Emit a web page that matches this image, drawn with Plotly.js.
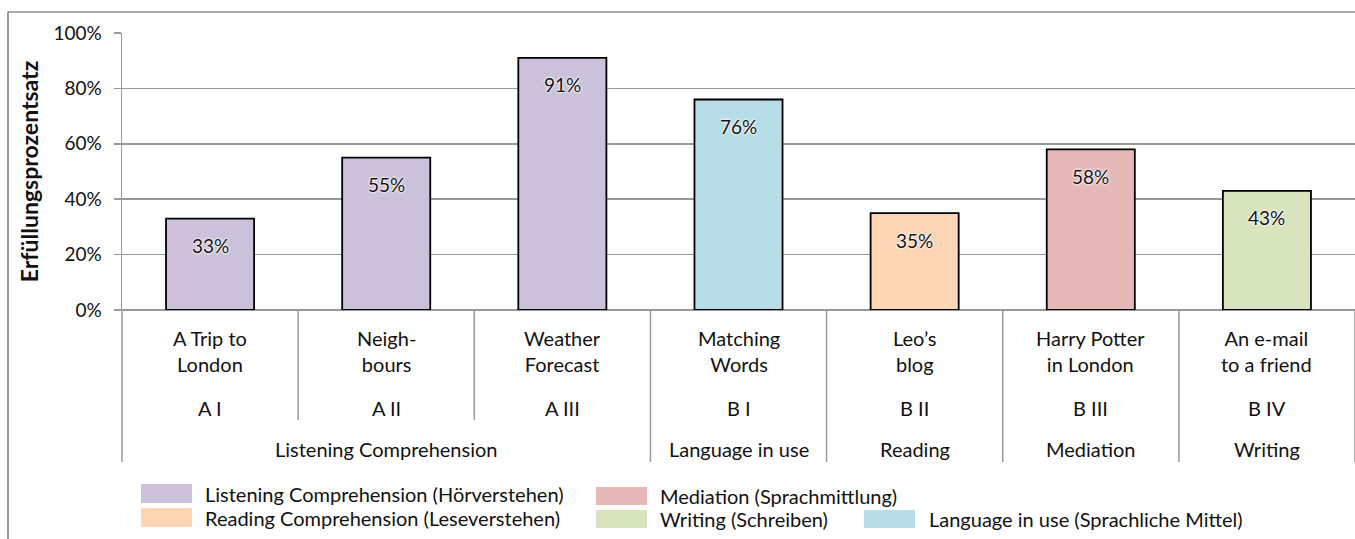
<!DOCTYPE html>
<html>
<head>
<meta charset="utf-8">
<script src="https://cdn.plot.ly/plotly-3.0.1.min.js"></script>
<style>html,body{margin:0;padding:0;background:#fff;}#chart{width:1355px;height:539px;}</style>
</head>
<body>
<div id="chart"></div>
<script>
// ---- data ----
const taskNames = ['A Trip to<br>London', 'Neigh-<br>bours', 'Weather<br>Forecast', 'Matching<br>Words', 'Leo’s<br>blog', 'Harry Potter<br>in London', 'An e-mail<br>to a friend'];
const taskCodes = ['A I', 'A II', 'A III', 'B I', 'B II', 'B III', 'B IV'];
const taskGroups = ['Listening Comprehension', 'Listening Comprehension', 'Listening Comprehension', 'Language in use', 'Reading', 'Mediation', 'Writing'];
const fulfilment = [33, 55, 91, 76, 35, 58, 43];
const skillOfTask = ['listening', 'listening', 'listening', 'language', 'reading', 'mediation', 'writing'];
const skillKeys = ['listening', 'reading', 'mediation', 'writing', 'language'];
const skillLabels = ['Listening Comprehension (Hörverstehen)', 'Reading Comprehension (Leseverstehen)', 'Mediation (Sprachmittlung)', 'Writing (Schreiben)', 'Language in use (Sprachliche Mittel)'];
const yTicks = [0, 20, 40, 60, 80, 100];

// ---- styles ----
const skillColors = {listening: '#ccc1da', reading: '#fcd5b5', mediation: '#e6b9b8', writing: '#d7e4bd', language: '#b7dde8'};
const FONT = 'Lato, "Open Sans", sans-serif';
const TXT = '#111';
const W = 1355, H = 539, ML = 122, MR = 0, MT = 33, MB = 229;
const PW = W - ML - MR, PH = H - MT - MB;
const px = v => (v - ML) / PW;          // pixel x -> paper
const py = v => (H - MB - v) / PH;      // pixel y -> paper
const N = taskNames.length;

const shapes = [];
const annotations = [];

// outer frame
shapes.push({type: 'rect', xref: 'paper', yref: 'paper', x0: px(8), x1: px(1420), y0: py(12), y1: py(620),
  line: {color: '#595959', width: 1.2}, fillcolor: 'rgba(0,0,0,0)', layer: 'below'});

// data labels
fulfilment.forEach((v, i) => {
  annotations.push({x: i, y: v, xref: 'x', yref: 'y', text: v + '%', showarrow: false, yanchor: 'middle', yshift: -27,
    font: {family: FONT, size: 19, color: TXT, shadow: '0 0 2px #fff, 0 0 2px #fff, 0 0 3px #fff'}});
});

// category labels (three levels)
const gridGray = '#999999';
const catFont = {family: FONT, size: 20, color: TXT};
for (let i = 0; i < N; i++) {
  annotations.push({x: i, y: py(351), xref: 'x', yref: 'paper', text: taskNames[i], showarrow: false, yanchor: 'middle', font: catFont});
  annotations.push({x: i, y: py(408), xref: 'x', yref: 'paper', text: taskCodes[i], showarrow: false, yanchor: 'middle', font: catFont});
}
// group runs
let start = 0;
const groupEdges = [0];
for (let i = 1; i <= N; i++) {
  if (i === N || taskGroups[i] !== taskGroups[start]) {
    annotations.push({x: (start + i - 1) / 2, y: py(449), xref: 'x', yref: 'paper', text: taskGroups[start], showarrow: false, yanchor: 'middle', font: catFont});
    groupEdges.push(i);
    start = i;
  }
}
for (let k = 0; k <= N; k++) {
  const isGroup = groupEdges.indexOf(k) >= 0;
  shapes.push({type: 'line', xref: 'paper', yref: 'paper', x0: k / N, x1: k / N, y0: py(310), y1: py(isGroup ? 462 : 420),
    line: {color: gridGray, width: 1.5}});
}

// legend (manual layout)
const legendPos = [
  {sx: 141, sy0: 484, sy1: 503, tx: 203},
  {sx: 141, sy0: 508, sy1: 527, tx: 203},
  {sx: 596, sy0: 487, sy1: 505, tx: 658},
  {sx: 596, sy0: 510, sy1: 528, tx: 658},
  {sx: 864, sy0: 510, sy1: 528, tx: 927}
];
skillKeys.forEach((k, j) => {
  const p = legendPos[j];
  shapes.push({type: 'rect', xref: 'paper', yref: 'paper', x0: px(p.sx), x1: px(p.sx + 51), y0: py(p.sy1), y1: py(p.sy0),
    line: {width: 0}, fillcolor: skillColors[k]});
  annotations.push({x: px(p.tx), y: py((p.sy0 + p.sy1) / 2), xref: 'paper', yref: 'paper', text: skillLabels[j], showarrow: false,
    xanchor: 'left', yanchor: 'middle', font: {family: FONT, size: 20, color: TXT}});
});

const trace = {
  type: 'bar',
  x: taskCodes.map((_, i) => i),
  y: fulfilment,
  width: 0.5,
  marker: {color: skillOfTask.map(s => skillColors[s]), line: {color: '#000', width: 1.8}},
  hoverinfo: 'none',
  showlegend: false
};

const layout = {
  width: W, height: H,
  margin: {l: ML, r: MR, t: MT, b: MB, pad: 0},
  paper_bgcolor: '#fff', plot_bgcolor: '#fff',
  showlegend: false,
  xaxis: {range: [-0.5, N - 0.5], showticklabels: false, ticks: '', showgrid: false, zeroline: false,
    showline: false, fixedrange: true},
  yaxis: {range: [0, 100], tickvals: yTicks, ticktext: yTicks.map(t => t + '%'), showgrid: true, gridcolor: gridGray, gridwidth: 1.5,
    zeroline: true, zerolinecolor: gridGray, zerolinewidth: 1.5,
    showline: true, linecolor: gridGray, linewidth: 1.5,
    ticks: 'outside', ticklen: 7, tickcolor: gridGray, tickwidth: 1.5, ticklabelstandoff: 8,
    tickfont: {family: FONT, size: 19, color: TXT},
    title: {text: 'Erfüllungsprozentsatz', standoff: 8, font: {family: FONT, size: 23, color: TXT, weight: 'bold'}},
    fixedrange: true},
  shapes: shapes,
  annotations: annotations
};

Plotly.newPlot('chart', [trace], layout, {displayModeBar: false, staticPlot: true});
</script>
</body>
</html>
